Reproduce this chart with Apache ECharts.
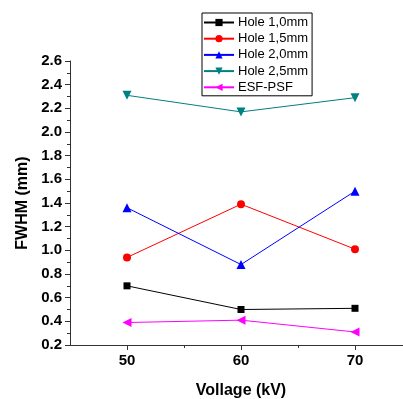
<!DOCTYPE html>
<html>
<head>
<meta charset="utf-8">
<script src="https://cdn.jsdelivr.net/npm/echarts@6/dist/echarts.min.js"></script>
<style>html,body{margin:0;padding:0;background:#fff}#c{width:403px;height:399px}</style>
</head>
<body>
<div id="c"></div>
<script>
const voltages = [50, 60, 70];
const seriesNames = ['Hole 1,0mm', 'Hole 1,5mm', 'Hole 2,0mm', 'Hole 2,5mm', 'ESF-PSF'];
const hole10 = [0.70, 0.50, 0.51];
const hole15 = [0.94, 1.39, 1.01];
const hole20 = [1.36, 0.88, 1.50];
const hole25 = [2.31, 2.17, 2.29];
const esfPsf = [0.39, 0.41, 0.31];
const xTickLabels = [50, 60, 70];
const xMinorTicks = [55, 65];

const FONT = 'Arial, "Liberation Sans", sans-serif';
const colors = ['#000000', '#ff0000', '#0000ff', '#008080', '#ff00ff'];
const symbols = ['rect', 'circle', 'triangle', 'triangle', 'triangle'];
const rotations = [0, 0, 0, 180, 90];
const sizes = [7, 8, 9, 9, 9];
const values = [hole10, hole15, hole20, hole25, esfPsf];

const chart = echarts.init(document.getElementById('c'), null, {renderer: 'canvas'});
chart.setOption({
  animation: false,
  backgroundColor: '#fff',
  textStyle: {fontFamily: FONT},
  grid: {left: 70, width: 342, top: 61, bottom: 54, containLabel: false, outerBoundsMode: 'none'},
  legend: {
    orient: 'vertical',
    left: 202, top: 13,
    width: 110,
    data: seriesNames,
    itemWidth: 30, itemHeight: 9, itemGap: 3.2,
    padding: [3, 4, 2, 1],
    borderColor: '#000', borderWidth: 1,
    textStyle: {fontFamily: FONT, fontSize: 13, color: '#000', padding: [0, 0, 0, -1]}
  },
  xAxis: [{
    type: 'value', min: 45, max: 75,
    name: 'Vollage (kV)', nameLocation: 'middle', nameGap: 38,
    nameTextStyle: {fontFamily: FONT, fontSize: 16, fontWeight: 'bold', color: '#000'},
    axisLine: {lineStyle: {color: '#333', width: 1}},
    axisTick: {customValues: xTickLabels, length: 5, lineStyle: {color: '#333'}},
    axisLabel: {customValues: xTickLabels, margin: 8, fontFamily: FONT, fontSize: 15, fontWeight: 'bold', color: '#000'},
    splitLine: {show: false}
  }, {
    type: 'value', min: 45, max: 75, position: 'bottom',
    axisLine: {show: false},
    axisTick: {customValues: xMinorTicks, length: 3, lineStyle: {color: '#333'}},
    axisLabel: {show: false},
    splitLine: {show: false}
  }],
  yAxis: {
    type: 'value', min: 0.2, max: 2.6, interval: 0.2,
    name: 'FWHM (mm)', nameLocation: 'middle', nameGap: 36, nameRotate: 90,
    nameTextStyle: {fontFamily: FONT, fontSize: 16, fontWeight: 'bold', color: '#000'},
    axisLine: {show: true, lineStyle: {color: '#333', width: 1}},
    axisTick: {show: true, length: 5, lineStyle: {color: '#333'}},
    minorTick: {show: true, splitNumber: 2, length: 3, lineStyle: {color: '#333'}},
    axisLabel: {margin: 8, fontFamily: FONT, fontSize: 15, fontWeight: 'bold', color: '#000',
      formatter: v => v.toFixed(1)},
    splitLine: {show: false}
  },
  series: seriesNames.map((n, i) => ({
    name: n, type: 'line', xAxisIndex: 0,
    data: voltages.map((x, j) => [x, values[i][j]]),
    symbol: symbols[i], symbolSize: sizes[i], symbolRotate: rotations[i],
    showAllSymbol: true,
    color: colors[i],
    lineStyle: {color: colors[i], width: 1},
    itemStyle: {color: colors[i]}
  }))
});
</script>
</body>
</html>
